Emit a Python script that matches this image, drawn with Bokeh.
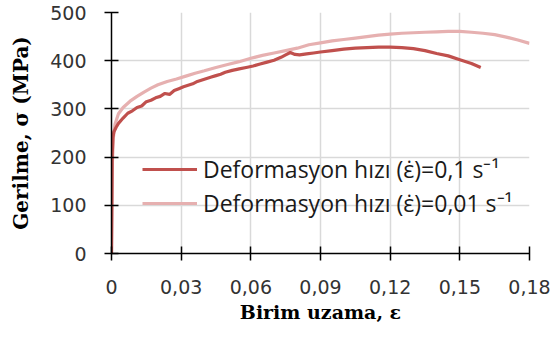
from bokeh.plotting import figure
from bokeh.models import FixedTicker, CustomJSTickFormatter, Legend, LegendItem
from bokeh.embed import file_html
from bokeh.resources import INLINE

# Strain rate 0.1 1/s
strain_fast = [0, 0.0003, 0.0006, 0.001, 0.002, 0.003, 0.005, 0.007, 0.009, 0.011,
               0.013, 0.015, 0.017, 0.019, 0.021, 0.023, 0.025, 0.027, 0.029, 0.031,
               0.033, 0.035, 0.037, 0.039, 0.041, 0.043, 0.045, 0.047, 0.049, 0.052,
               0.055, 0.058, 0.061, 0.064, 0.067, 0.070, 0.073, 0.075, 0.077, 0.079,
               0.081, 0.084, 0.087, 0.090, 0.095, 0.100, 0.105, 0.110, 0.115, 0.120,
               0.125, 0.130, 0.135, 0.140, 0.145, 0.150, 0.155, 0.159]
stress_fast = [0, 205, 240, 252, 262, 270, 281, 291, 296, 303,
               306, 315, 318, 323, 326, 332, 330, 338, 342, 346,
               349, 352, 357, 360, 363, 366, 369, 372, 376, 380,
               383, 386, 389, 393, 397, 401, 407, 412, 417, 413,
               412, 414, 416, 418, 421, 424, 426, 427, 428, 428,
               427, 425, 421, 415, 410, 402, 394, 386]

# Strain rate 0.01 1/s
strain_slow = [0, 0.0004, 0.0008, 0.0015, 0.003, 0.005, 0.008, 0.011, 0.014, 0.017,
               0.020, 0.024, 0.028, 0.032, 0.036, 0.040, 0.045, 0.050, 0.055, 0.060,
               0.065, 0.070, 0.075, 0.080, 0.085, 0.090, 0.095, 0.100, 0.105, 0.110,
               0.115, 0.120, 0.125, 0.130, 0.135, 0.140, 0.145, 0.150, 0.155, 0.160,
               0.165, 0.170, 0.175, 0.180]
stress_slow = [0, 190, 240, 268, 290, 303, 316, 326, 335, 343,
               350, 357, 362, 368, 374, 379, 386, 392, 398, 405,
               411, 416, 421, 426, 433, 437, 441, 444, 447, 450,
               453, 455, 457, 458, 459, 460, 461, 461, 459, 457,
               454, 449, 443, 436]

x_ticks = [0, 0.03, 0.06, 0.09, 0.12, 0.15, 0.18]
y_ticks = [0, 100, 200, 300, 400, 500]
label_fast = "Deformasyon hızı (ε̇)=0,1 s⁻¹"
label_slow = "Deformasyon hızı (ε̇)=0,01 s⁻¹"

p = figure(width=556, height=338, output_backend="svg", toolbar_location=None,
           x_range=(0, 0.18), y_range=(0, 500),
           min_border_left=111, min_border_right=27, min_border_top=12, min_border_bottom=85)
p.outline_line_color = None
p.background_fill_color = "white"
p.border_fill_color = "white"

for ax in (p.xaxis[0], p.yaxis[0]):
    ax.axis_line_color = "black"
    ax.axis_line_width = 1.5
    ax.major_tick_line_color = "black"
    ax.major_tick_line_width = 1.5
    ax.major_tick_in = 7
    ax.major_tick_out = 7
    ax.minor_tick_line_color = None
    ax.major_label_text_font = "DejaVu Sans"
    ax.major_label_text_font_size = "19px"
    ax.major_label_text_color = "#333333"
    ax.axis_label_text_font = "DejaVu Serif"
    ax.axis_label_text_font_style = "bold"
    ax.axis_label_text_font_size = "19px"
    ax.axis_label_text_color = "black"

p.xaxis.ticker = FixedTicker(ticks=x_ticks)
p.yaxis.ticker = FixedTicker(ticks=y_ticks)
p.xaxis.formatter = CustomJSTickFormatter(
    code="return tick === 0 ? '0' : tick.toFixed(2).replace('.', ',');")
p.xaxis.major_label_standoff = 19
p.yaxis.major_label_standoff = 18
p.xaxis.axis_label = "Birim uzama, ε"
p.yaxis.axis_label = "Gerilme, σ (MPa)"
p.xaxis.axis_label_standoff = 4
p.yaxis.axis_label_standoff = 14
p.yaxis[0].axis_label_text_font_size = "20px"

p.xgrid.ticker = FixedTicker(ticks=x_ticks)
p.ygrid.ticker = FixedTicker(ticks=y_ticks)
for g in (p.xgrid[0], p.ygrid[0]):
    g.grid_line_color = "#d9d9d9"
    g.grid_line_width = 1.5

r_slow = p.line(strain_slow, stress_slow, line_color="#e6b0b0", line_width=3.2)
r_fast = p.line(strain_fast, stress_fast, line_color="#c0504d", line_width=3.2)

legend = Legend(items=[LegendItem(label=label_fast, renderers=[r_fast]),
                       LegendItem(label=label_slow, renderers=[r_slow])],
                location=(31, 34), orientation="vertical",
                background_fill_alpha=0, border_line_color=None,
                padding=0, margin=0, spacing=2,
                glyph_width=55, glyph_height=30, label_height=30,
                label_standoff=6,
                label_text_font="Open Sans", label_text_font_size="23px",
                label_text_color="#1a1a1a")
p.add_layout(legend)

open("out.html", "w").write(file_html(p, INLINE))
